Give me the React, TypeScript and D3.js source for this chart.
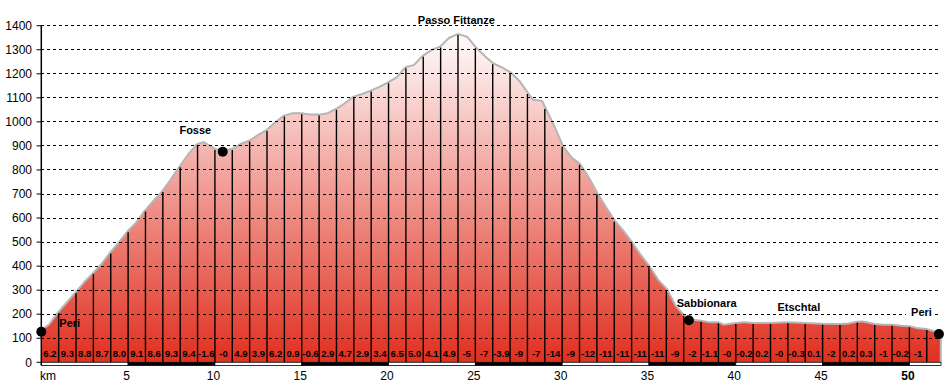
import React from 'react';
import * as d3 from 'd3';

// ---- data ----
const profileKm = [0, 0.5, 1, 1.5, 2, 2.5, 3, 3.5, 4, 4.5, 5, 5.5, 6, 6.5, 7, 7.5, 8, 8.5, 9, 9.35, 9.7, 10, 10.45, 11, 11.5, 12, 12.5, 13, 13.5, 14, 14.5, 15, 15.5, 16, 16.5, 17, 17.5, 18, 18.5, 19, 19.5, 20, 20.5, 21, 21.5, 22, 22.5, 23, 23.5, 24, 24.5, 25, 25.5, 26, 26.5, 27, 27.5, 28, 28.3, 28.8, 29, 29.5, 30, 30.5, 31, 31.5, 32, 32.5, 33, 33.5, 34, 34.5, 35, 35.5, 36, 36.5, 37, 37.3, 37.5, 38, 38.5, 39, 39.3, 40, 40.5, 41, 42, 43, 44, 45, 46, 46.5, 47, 47.3, 48, 48.5, 49, 49.5, 50, 50.5, 51, 51.3, 51.75];
const profileElev = [127, 155, 204, 245, 287, 329, 367, 405, 453, 495, 541, 578, 627, 668, 708, 758, 811, 862, 904, 911, 897, 883, 876, 883, 904, 918, 941, 962, 994, 1022, 1032, 1032, 1026, 1026, 1032, 1050, 1073, 1101, 1112, 1126, 1142, 1161, 1181, 1223, 1233, 1271, 1295, 1309, 1345, 1361, 1350, 1306, 1271, 1240, 1223, 1202, 1167, 1116, 1088, 1084, 1054, 980, 897, 849, 821, 765, 699, 641, 585, 543, 495, 442, 395, 339, 301, 231, 192, 175, 173, 169, 162, 162, 152, 159, 162, 159, 159, 162, 159, 156, 155, 157, 165, 166, 155, 152, 152, 148, 146, 137, 134, 127, 116];

const gradeLabels = ["6.2", "9.3", "8.8", "8.7", "8.0", "9.1", "8.6", "9.3", "9.4", "-1.6", "-0", "4.9", "3.9", "6.2", "0.9", "-0.6", "2.9", "4.7", "2.9", "3.4", "6.5", "5.0", "4.1", "4.9", "-5", "-7", "-3.9", "-9", "-7", "-14", "-9", "-12", "-11", "-11", "-11", "-11", "-9", "-2", "-1.1", "-0", "-0.2", "0.2", "-0", "-0.3", "0.1", "-2", "0.2", "0.3", "-1", "-0.2", "-1"];

const yTicks = [0, 100, 200, 300, 400, 500, 600, 700, 800, 900, 1000, 1100, 1200, 1300, 1400];
const kmTicks = [5, 10, 15, 20, 25, 30, 35, 40, 45, 50];

const placeNames = ["Peri", "Fosse", "Passo Fittanze", "Sabbionara", "Etschtal", "Peri"];
const placeKm = [0, 10.45, 24, 37.3, 43.6, 51.7];
const placeDot = [true, true, false, true, false, true];

// ---- layout (not data) ----
const W = 946;
const H = 384;
const KM_MAX = 51.82;
const labelDx = [18, -27.4, -1.6, -12.2, 0.6, -7];
const labelDy = [-4.8, -17.7, -11, -13, -12.8, -18];
const labelAnchor = ['start', 'middle', 'middle', 'start', 'middle', 'end'];
const labelBg = [false, false, false, false, false, true];
const FONT = 'Liberation Sans, Arial, sans-serif';

export default function App() {
  const x = d3.scaleLinear().domain([0, KM_MAX]).range([41.3, 941]);
  const y = d3.scaleLinear().domain([0, 1400]).range([362.3, 25.7]);
  const elevAt = d3.scaleLinear().domain(profileKm).range(profileElev).clamp(true);

  const pts: [number, number][] = profileKm.map((k, i) => [k, profileElev[i]]);
  const area = d3.area<[number, number]>()
    .x(d => x(d[0]))
    .y0(y(0))
    .y1(d => y(d[1]));
  const line = d3.line<[number, number]>()
    .x(d => x(d[0]))
    .y(d => y(d[1]));
  const lastKm = profileKm[profileKm.length - 1];
  const outline = line(pts) + `L${x(lastKm)},${y(0)}`;

  const kmLines = d3.range(1, Math.floor(lastKm) + 1);
  const barSegs = d3.range(0, KM_MAX, 5).map((s, i) => ({ s, e: Math.min(s + 5, KM_MAX), black: i % 2 === 1 }));

  return (
    <svg width={W} height={H} style={{ position: 'fixed', left: 0, top: 0, background: '#fff' }} fontFamily={FONT}>
      <defs>
        <linearGradient id="fillGrad" gradientUnits="userSpaceOnUse" x1="0" x2="0" y1={y(1400)} y2={y(0)}>
          <stop offset="0" stopColor="#ffffff" />
          <stop offset="0.08" stopColor="#fdf1f0" />
          <stop offset="1" stopColor="#e02f1f" />
        </linearGradient>
      </defs>
      <rect x={0} y={0} width={W} height={H} fill="#fff" />

      {/* gray outline then fill */}
      <path d={outline} fill="none" stroke="#b5b5b5" strokeWidth={4} strokeLinejoin="round" />
      <path d={area(pts) || ''} fill="url(#fillGrad)" />

      {/* dashed grid */}
      {yTicks.filter(t => t > 0).map(t => (
        <line key={'g' + t} x1={41.3} x2={941} y1={y(t)} y2={y(t)} stroke="#000" strokeWidth={1} strokeDasharray="3,3" shapeRendering="crispEdges" />
      ))}

      {/* km vertical lines */}
      {kmLines.map(k => (
        <line key={'v' + k} x1={x(k)} x2={x(k)} y1={y(elevAt(k))} y2={y(0)} stroke="#000" strokeWidth={1.4} />
      ))}

      {/* grade labels */}
      {gradeLabels.map((g, i) => (
        <text key={'gr' + i} x={x(i + 0.5)} y={357.3} textAnchor="middle" fontSize={9.5} fontWeight="bold" fill="#000">{g}</text>
      ))}

      {/* bottom bar */}
      {barSegs.map((b, i) => (
        <rect key={'b' + i} x={x(b.s)} y={362.3} width={x(b.e) - x(b.s)} height={3.2} fill={b.black ? '#000' : '#fff'} stroke="#000" strokeWidth={0.8} />
      ))}

      {/* y axis */}
      <line x1={41.3} x2={41.3} y1={y(1400)} y2={y(0) + 3} stroke="#000" strokeWidth={1.5} />
      {yTicks.map(t => (
        <g key={'yt' + t}>
          <line x1={36.5} x2={41.3} y1={y(t)} y2={y(t)} stroke="#000" strokeWidth={1} />
          <text x={32} y={y(t)} dy="0.35em" textAnchor="end" fontSize={12} fill="#000">{t}</text>
        </g>
      ))}

      {/* x axis labels */}
      <text x={40} y={380} fontSize={12} fill="#000">km</text>
      {kmTicks.map(k => (
        <text key={'xt' + k} x={x(k) - 1.5} y={380} textAnchor="middle" fontSize={12} fill="#000" fontWeight={k === 50 ? 'bold' : 'normal'}>{k}</text>
      ))}

      {/* places */}
      {placeNames.map((n, i) => {
        const px = x(placeKm[i]);
        const py = y(elevAt(placeKm[i]));
        const tx = px + labelDx[i];
        const ty = py + labelDy[i];
        const w = n.length * 6;
        return (
          <g key={'p' + i}>
            {labelBg[i] && (
              <rect x={labelAnchor[i] === 'end' ? tx - w - 2 : tx - 2} y={ty - 9} width={w + 5} height={11} fill="#fff" />
            )}
            <text x={tx} y={ty} textAnchor={labelAnchor[i] as any} fontSize={11} fontWeight="bold" fill="#000">{n}</text>
            {placeDot[i] && <circle cx={px} cy={py} r={5} fill="#000" />}
          </g>
        );
      })}
    </svg>
  );
}
